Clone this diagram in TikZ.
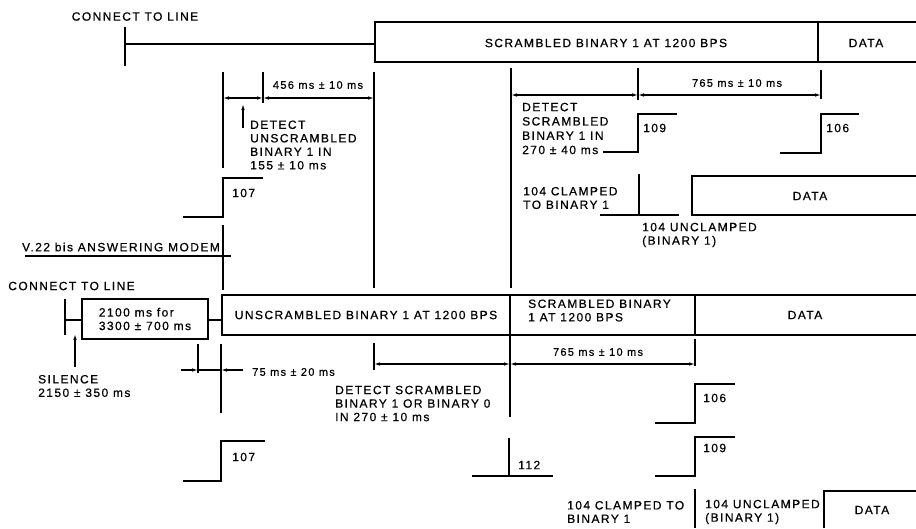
\documentclass[tikz,border=0pt]{standalone}
\usepackage{fontspec}
\usepackage{tikz}
\usetikzlibrary{positioning, arrows.meta}
\newfontfamily\diafont{Liberation Sans}[LetterSpace=12, FakeBold=0.6]

\begin{document}
\begin{tikzpicture}[
    x=1pt, y=-1pt,
    font=\diafont\fontsize{12}{13.5}\selectfont,
    sig/.style={line width=1.8pt},
    dim/.style={{Latex[length=6pt,width=3.5pt]}-{Latex[length=6pt,width=3.5pt]}, line width=1.1pt},
    oneway/.style={-{Latex[length=6pt,width=3.5pt]}, line width=1.1pt},
    txt/.style={inner sep=0pt},
    lbl/.style={inner sep=0pt, align=left, anchor=west},
    num/.style={inner sep=0pt, anchor=west}
]
\useasboundingbox (0,0) rectangle (916,528);

% answering modem
\node[txt] (conA) at (135,16.5) {CONNECT TO LINE};
\draw[sig] (125,27) -- (125,66);
\draw[sig] (125,44) -- (375,44);
\draw[sig] (916,22) -- (375,22) -- (375,62) -- (916,62);
\draw[sig] (818,22) -- (818,62);
\node[txt] (scrA) at (606,43) {SCRAMBLED BINARY 1 AT 1200 BPS};
\node[txt] (datA) at (866,43) {DATA};

\draw[sig] (223,72) -- (223,168);
\draw[sig] (263,72) -- (263,103);
\draw[sig] (374,72) -- (374,288);
\draw[dim] (223,98) -- (263,98);
\draw[dim] (263,98) -- (374,98);
\node[txt, font=\diafont\fontsize{11}{13}\selectfont] (tA1) at (318,85) {456 ms ± 10 ms};
\draw[oneway] (243,128) -- (243,104);
\node[lbl] (detA1) at (250,145) {DETECT\\UNSCRAMBLED\\BINARY 1 IN\\155 ± 10 ms};

\draw[sig] (183,217) -- (223,217) -- (223,178) -- (263,178);
\node[num] (c107a) at (232,193) {107};
\draw[sig] (223,225) -- (223,290);
\node[txt] (modA) at (121,247) {V.22 bis ANSWERING MODEM};
\draw[sig] (25,256) -- (231,256);

\draw[sig] (511,68) -- (511,288);
\draw[sig] (638,68) -- (638,100);
\draw[sig] (821,70) -- (821,99);
\draw[dim] (511,95) -- (638,95);
\draw[dim] (638,95) -- (821,95);
\node[txt, font=\diafont\fontsize{11}{13}\selectfont] (tA2) at (737,83) {765 ms ± 10 ms};
\node[lbl, font=\diafont\fontsize{12}{14.3}\selectfont] (detA2) at (522,128.5) {DETECT\\SCRAMBLED\\BINARY 1 IN\\270 ± 40 ms};

\draw[sig] (603,152) -- (638,152) -- (638,114) -- (677,114);
\node[num] (c109a) at (643,128) {109};
\draw[sig] (780,153) -- (821,153) -- (821,114) -- (859,114);
\node[num] (c106a) at (826,128) {106};

\draw[sig] (639,174) -- (639,215);
\draw[sig] (600,215) -- (679,215);
\node[lbl] (clpA) at (523,198) {104 CLAMPED\\TO BINARY 1};
\draw[sig] (916,176) -- (692,176) -- (692,215) -- (916,215);
\node[txt] (dat104A) at (810,196) {DATA};
\node[lbl] (uclA) at (642,235) {104 UNCLAMPED\\(BINARY 1)};

% calling modem
\node[txt] (conB) at (71.5,286) {CONNECT TO LINE};
\draw[sig] (65,299) -- (65,335);
\draw[sig] (65,320) -- (82,320);
\draw[sig] (82,299) rectangle (208,339);
\node[txt, align=left] (ansB) at (145,319) {2100 ms for\\3300 ± 700 ms};
\draw[sig] (208,320) -- (222,320);
\draw[sig] (916,295) -- (222,295) -- (222,335) -- (916,335);
\draw[sig] (510,295) -- (510,335);
\draw[sig] (695,295) -- (695,335);
\node[txt] (unsB) at (366,315) {UNSCRAMBLED BINARY 1 AT 1200 BPS};
\node[lbl] (scrB) at (528,310.5) {SCRAMBLED BINARY\\1 AT 1200 BPS};
\node[txt] (datB) at (805,315) {DATA};

\draw[oneway] (75,367) -- (75,334);
\node[lbl] (silB) at (38,386) {SILENCE\\2150 ± 350 ms};

\draw[sig] (198,344) -- (198,373);
\draw[sig] (221,344) -- (221,413);
\draw[oneway] (181,370) -- (198,370);
\draw[line width=1.1pt] (198,370) -- (221,370);
\draw[oneway] (243,370) -- (221,370);
\node[lbl, font=\diafont\fontsize{11}{13}\selectfont] (tB1) at (252,372) {75 ms ± 20 ms};

\draw[sig] (183,481) -- (221,481) -- (221,441) -- (265,441);
\node[num] (c107b) at (232,457) {107};

\draw[sig] (374,343) -- (374,370);
\draw[sig] (510,335) -- (510,417);
\draw[sig] (695,339) -- (695,366);
\draw[dim] (374,364) -- (510,364);
\draw[dim] (510,364) -- (695,364);
\node[txt, font=\diafont\fontsize{11}{13}\selectfont] (tB2) at (598,352) {765 ms ± 10 ms};
\node[lbl] (detB) at (335,403.5) {DETECT SCRAMBLED\\BINARY 1 OR BINARY 0\\IN 270 ± 10 ms};

\draw[sig] (509,438) -- (509,476);
\draw[sig] (472,476) -- (553,476);
\node[num] (c112b) at (518,465) {112};

\draw[sig] (655,423) -- (695,423) -- (695,384) -- (735,384);
\node[num] (c106b) at (703,398) {106};
\draw[sig] (655,476) -- (695,476) -- (695,437) -- (735,437);
\node[num] (c109b) at (703,448) {109};

\draw[sig] (695,489) -- (695,528);
\node[lbl] (clpB) at (567,512) {104 CLAMPED TO\\BINARY 1};
\node[lbl] (uclB) at (705,512) {104 UNCLAMPED\\(BINARY 1)};
\draw[sig] (824,528) -- (824,491) -- (916,491);
\node[txt] (dat104B) at (872,510) {DATA};
\end{tikzpicture}
\end{document}
